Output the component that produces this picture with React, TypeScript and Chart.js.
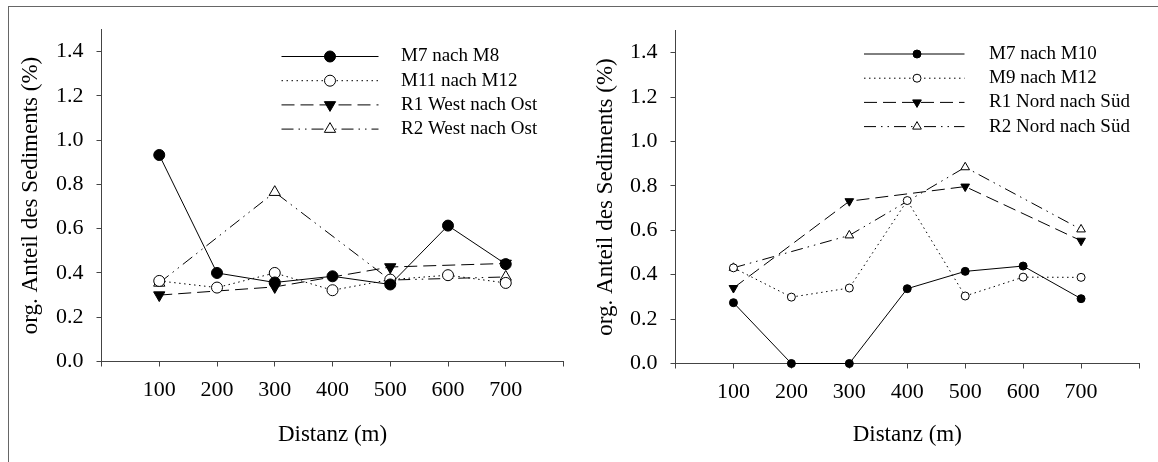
import React, { useEffect, useRef } from 'react';
import { Chart, registerables } from 'chart.js';
import { drawPoint } from 'chart.js/helpers';

Chart.register(...registerables);

const FONT = "'Liberation Serif', 'Times New Roman', Times, serif";

// ---- data ----
const distances = [100, 200, 300, 400, 500, 600, 700];
const xTickValues = [0, 100, 200, 300, 400, 500, 600, 700, 800];
const yTickValues = [0, 0.2, 0.4, 0.6, 0.8, 1.0, 1.2, 1.4];
const xAxisMax = 800;
const yAxisMax = 1.5;
const xTitle = 'Distanz (m)';
const yTitle = 'org. Anteil des Sediments (%)';

const leftLabels = ['M7 nach M8', 'M11 nach M12', 'R1 West nach Ost', 'R2 West nach Ost'];
const m7NachM8 = [0.933, 0.4, 0.357, 0.385, 0.348, 0.614, 0.44];
const m11NachM12 = [0.364, 0.334, 0.4, 0.322, 0.37, 0.39, 0.355];
const r1WestNachOst = [0.3, null, 0.337, null, 0.427, null, 0.443];
const r2WestNachOst = [0.355, null, 0.765, null, 0.368, null, 0.382];

const rightLabels = ['M7 nach M10', 'M9 nach M12', 'R1 Nord nach Süd', 'R2 Nord nach Süd'];
const m7NachM10 = [0.274, 0, 0, 0.337, 0.415, 0.439, 0.292];
const m9NachM12 = [0.431, 0.299, 0.34, 0.734, 0.304, 0.389, 0.388];
const r1NordNachSued = [0.34, null, 0.731, null, 0.797, null, 0.553];
const r2NordNachSued = [0.431, null, 0.577, null, 0.884, null, 0.604];

// ---- styles ----
const seriesStyles = [
  { pointStyle: 'circle', rotation: 0, fill: '#000', dash: [] as number[] },
  { pointStyle: 'circle', rotation: 0, fill: '#fff', dash: [1.5, 3.5] },
  { pointStyle: 'triangle', rotation: 180, fill: '#000', dash: [13, 6] },
  { pointStyle: 'triangle', rotation: 0, fill: '#fff', dash: [12, 5, 1.5, 5, 1.5, 5] },
];

const lineLegend = {
  id: 'lineLegend',
  afterDraw(chart: any, _args: any, opts: any) {
    const { ctx } = chart;
    chart.data.datasets.forEach((ds: any, i: number) => {
      const y = opts.y0 + i * opts.dy;
      ctx.save();
      ctx.strokeStyle = ds.borderColor;
      ctx.lineWidth = ds.borderWidth;
      ctx.setLineDash(ds.borderDash || []);
      ctx.beginPath();
      ctx.moveTo(opts.x0, y);
      ctx.lineTo(opts.x1, y);
      ctx.stroke();
      ctx.setLineDash([]);
      ctx.fillStyle = ds.pointBackgroundColor;
      ctx.strokeStyle = ds.pointBorderColor;
      ctx.lineWidth = ds.pointBorderWidth;
      drawPoint(
        ctx,
        { pointStyle: ds.pointStyle, rotation: ds.pointRotation, radius: ds.pointRadius, borderWidth: ds.pointBorderWidth } as any,
        opts.xm,
        y
      );
      ctx.fillStyle = '#000';
      ctx.font = `${opts.fontSize}px ${FONT}`;
      ctx.textBaseline = 'middle';
      ctx.textAlign = 'left';
      ctx.fillText(ds.label, opts.xt, y);
      ctx.restore();
    });
  },
};

type Geo = {
  offsetX: number;
  width: number;
  height: number;
  left: number;
  top: number;
  right: number;
  bottom: number;
  legend: { x0: number; x1: number; xm: number; xt: number; y0: number; dy: number; fontSize: number };
  circleR: number;
  triR: number;
};

function Panel({ geo, labels, series }: { geo: Geo; labels: string[]; series: (number | null)[][] }) {
  const ref = useRef<HTMLCanvasElement | null>(null);
  useEffect(() => {
    if (!ref.current) return;
    const datasets = series.map((vals, i) => {
      const st = seriesStyles[i];
      return {
        label: labels[i],
        data: distances.map((x, j) => ({ x, y: vals[j] })),
        borderColor: '#000',
        borderWidth: 1,
        borderDash: st.dash,
        pointStyle: st.pointStyle,
        pointRotation: st.rotation,
        pointRadius: st.pointStyle === 'circle' ? geo.circleR : geo.triR,
        pointBackgroundColor: st.fill,
        pointBorderColor: '#000',
        pointBorderWidth: 1,
        spanGaps: true,
        clip: false,
        tension: 0,
        fill: false,
      };
    });
    const chart = new Chart(ref.current, {
      type: 'line',
      data: { datasets } as any,
      plugins: [lineLegend as any],
      options: {
        responsive: false,
        animation: false,
        layout: { padding: { left: 0, top: geo.top, right: geo.width - geo.right, bottom: 0 } },
        plugins: {
          legend: { display: false },
          tooltip: { enabled: false },
          lineLegend: geo.legend,
        } as any,
        scales: {
          x: {
            type: 'linear',
            min: 0,
            max: xAxisMax,
            afterBuildTicks: (s: any) => {
              s.ticks = xTickValues.map((value) => ({ value }));
            },
            ticks: {
              autoSkip: false,
              maxRotation: 0,
              color: '#000',
              padding: 11,
              font: { family: FONT, size: 22 },
              callback: (v: any) => (v > 0 && v < xAxisMax ? String(v) : ''),
            },
            grid: { drawOnChartArea: false, drawTicks: true, tickLength: 5, color: '#444', lineWidth: 1 },
            border: { display: true, color: '#444', width: 1 },
            title: {
              display: true,
              text: xTitle,
              color: '#000',
              font: { family: FONT, size: 23 },
              padding: { top: 0, bottom: 13 },
            },
            afterFit: (s: any) => {
              s.height = geo.height - geo.bottom;
            },
          },
          y: {
            type: 'linear',
            min: 0,
            max: yAxisMax,
            afterBuildTicks: (s: any) => {
              s.ticks = yTickValues.map((value) => ({ value }));
            },
            ticks: {
              autoSkip: false,
              color: '#000',
              padding: 13,
              font: { family: FONT, size: 22 },
              callback: (v: any) => Number(v).toFixed(1),
            },
            grid: { drawOnChartArea: false, drawTicks: true, tickLength: 5, color: '#444', lineWidth: 1 },
            border: { display: true, color: '#444', width: 1 },
            title: {
              display: true,
              text: yTitle,
              color: '#000',
              font: { family: FONT, size: 23 },
              padding: { top: 17, bottom: 0 },
            },
            afterFit: (s: any) => {
              s.width = geo.left;
            },
          },
        } as any,
      },
    });
    return () => chart.destroy();
  }, []);
  return (
    <canvas
      ref={ref}
      width={geo.width}
      height={geo.height}
      style={{ position: 'absolute', left: geo.offsetX, top: 0, width: geo.width, height: geo.height, display: 'block' }}
    />
  );
}

const leftGeo: Geo = {
  offsetX: 0,
  width: 575,
  height: 462,
  left: 101.5,
  top: 29.5,
  right: 563.5,
  bottom: 361.5,
  legend: { x0: 281.5, x1: 378.5, xm: 330, xt: 401, y0: 56.5, dy: 24.2, fontSize: 19 },
  circleR: 5.5,
  triR: 6.5,
};

const rightGeo: Geo = {
  offsetX: 575,
  width: 583,
  height: 462,
  left: 100.5,
  top: 30.5,
  right: 564,
  bottom: 363.5,
  legend: { x0: 289, x1: 389.5, xm: 342, xt: 414, y0: 54, dy: 24.2, fontSize: 19 },
  circleR: 4,
  triR: 5,
};

export default function App() {
  return (
    <div style={{ position: 'absolute', left: 0, top: 0, width: 1158, height: 462, background: '#fff', overflow: 'hidden' }}>
      <div
        style={{
          position: 'absolute',
          left: 8,
          top: 6,
          right: 0,
          bottom: 0,
          borderTop: '1px solid #666',
          borderLeft: '1px solid #666',
        }}
      />
      <Panel geo={leftGeo} labels={leftLabels} series={[m7NachM8, m11NachM12, r1WestNachOst, r2WestNachOst]} />
      <Panel geo={rightGeo} labels={rightLabels} series={[m7NachM10, m9NachM12, r1NordNachSued, r2NordNachSued]} />
    </div>
  );
}
